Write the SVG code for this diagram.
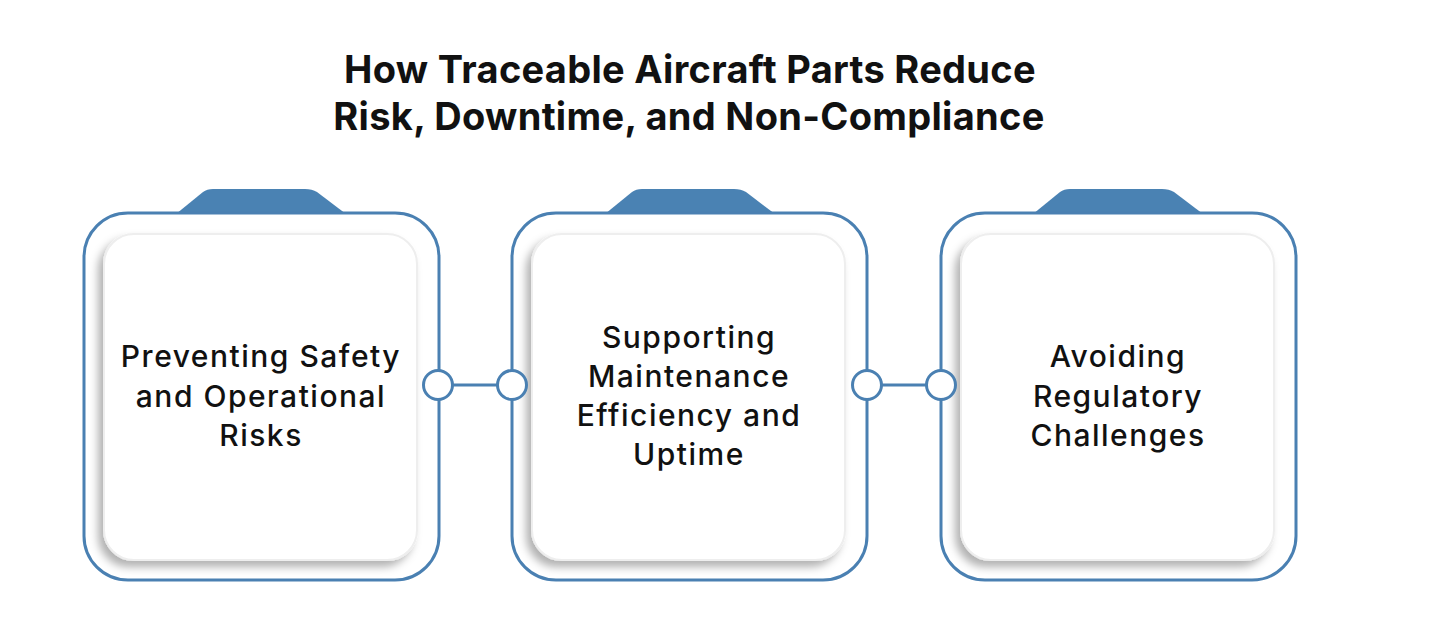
<svg xmlns="http://www.w3.org/2000/svg" width="1431" height="635" viewBox="0 0 1431 635">
<defs>
<filter id="sh" x="-20%" y="-20%" width="140%" height="140%">
<feDropShadow dx="-5" dy="6" stdDeviation="4" flood-color="#000" flood-opacity="0.3"/>
</filter>
<style>
.outer{fill:#fff;stroke:#4a80b2;stroke-width:3}
.tab{fill:#4a82b3}
.inner{fill:#fff;stroke:#eeeeee;stroke-width:2;filter:url(#sh)}
.title{font-family:Inter,"Liberation Sans",sans-serif;font-weight:700;font-size:38px;letter-spacing:0.3px;fill:#111;text-anchor:middle}
.lbl{font-family:Inter,"Liberation Sans",sans-serif;font-weight:500;font-size:30px;letter-spacing:1.5px;fill:#111;text-anchor:middle}
.dot{fill:#fff;stroke:#4a80b2;stroke-width:3}
.conn{stroke:#4a80b2;stroke-width:3;fill:none}
</style>
</defs>
<rect width="1431" height="635" fill="#fff"/>
<g id="title">
<text class="title" x="690" y="83">How Traceable Aircraft Parts Reduce</text>
<text class="title" x="689" y="130">Risk, Downtime, and Non-Compliance</text>
</g>
<g id="card1">
<path class="tab" d="M176 214 L203 192 Q207 189 213 189 L305 189 Q312 189 317 192 L346 214 Z"/>
<rect class="outer" x="84" y="213" width="355" height="367" rx="44"/>
<rect class="inner" x="104" y="234" width="313" height="326" rx="30"/>
<text class="lbl" x="261" y="367">Preventing Safety</text>
<text class="lbl" x="261" y="407">and Operational</text>
<text class="lbl" x="261" y="446">Risks</text>
</g>
<g id="card2">
<path class="tab" d="M605 214 L632 192 Q636 189 642 189 L734 189 Q741 189 746 192 L775 214 Z"/>
<rect class="outer" x="512" y="213" width="355" height="367" rx="44"/>
<rect class="inner" x="532" y="234" width="313" height="326" rx="30"/>
<text class="lbl" x="689" y="348">Supporting</text>
<text class="lbl" x="689" y="387">Maintenance</text>
<text class="lbl" x="689" y="426">Efficiency and</text>
<text class="lbl" x="689" y="465">Uptime</text>
</g>
<g id="card3">
<path class="tab" d="M1033 214 L1060 192 Q1064 189 1070 189 L1162 189 Q1169 189 1174 192 L1203 214 Z"/>
<rect class="outer" x="941" y="213" width="355" height="367" rx="44"/>
<rect class="inner" x="961" y="234" width="313" height="326" rx="30"/>
<text class="lbl" x="1118" y="367">Avoiding</text>
<text class="lbl" x="1118" y="407">Regulatory</text>
<text class="lbl" x="1118" y="446">Challenges</text>
</g>
<g id="connectors">
<line class="conn" x1="452" y1="385" x2="497" y2="385"/>
<line class="conn" x1="882" y1="385" x2="926" y2="385"/>
<circle class="dot" cx="438" cy="385" r="14.5"/>
<circle class="dot" cx="512" cy="385" r="14.5"/>
<circle class="dot" cx="867" cy="385" r="14.5"/>
<circle class="dot" cx="941" cy="385" r="14.5"/>
</g>
</svg>
